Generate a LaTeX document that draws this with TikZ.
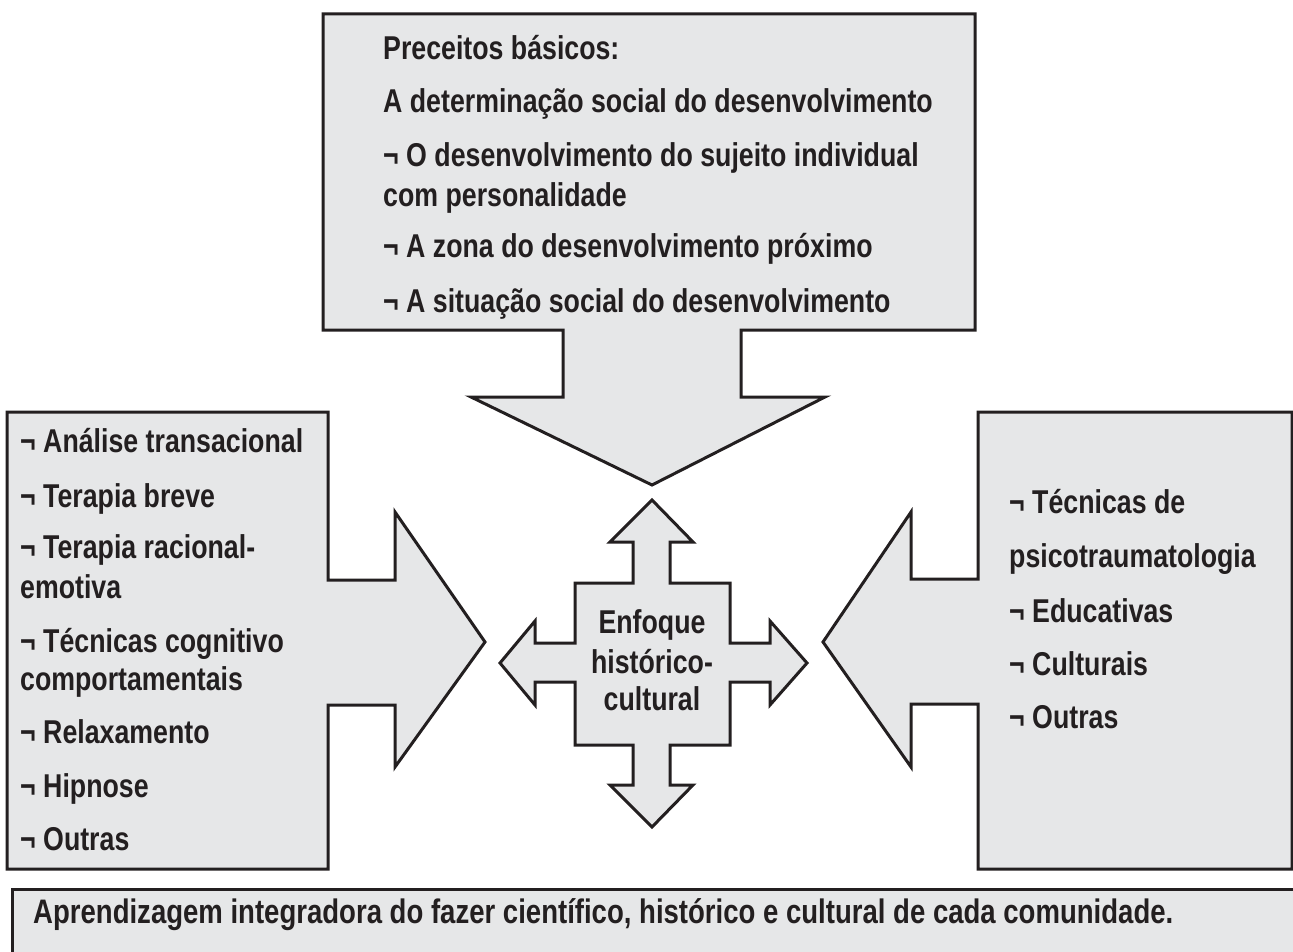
\documentclass[tikz,border=0pt]{standalone}
\usepackage{fontspec}
\setmainfont{Liberation Sans}[FakeStretch=0.81]
\definecolor{fillgray}{HTML}{E6E7E8}
\definecolor{strokec}{HTML}{231F20}
\newcommand\lblfont{\fontsize{33}{40}\selectfont\bfseries}
\newcommand\bottomfont{\fontsize{34}{40}\selectfont\bfseries}
\tikzset{
  callout/.style={fill=fillgray, draw=strokec, line width=3pt, line join=miter},
  lbl/.style={anchor=base west, inner sep=0pt, text=strokec, font=\lblfont},
  clbl/.style={anchor=base, inner sep=0pt, text=strokec, font=\lblfont}
}
\begin{document}
\begin{tikzpicture}[x=1pt,y=-1pt]
\useasboundingbox (0,0) rectangle (1293,952);
\clip (0,0) rectangle (1293,952);
% top callout
\draw[callout] (323,14) -- (975,14) -- (975,330) -- (741,330) -- (741,397) -- (825,397)
  -- (652,485) -- (471,397) -- (563,397) -- (563,330) -- (323,330) -- cycle;
% left callout
\draw[callout] (7,412) -- (328,412) -- (328,580) -- (395,580) -- (395,512) -- (485,642)
  -- (395,767) -- (395,705) -- (328,705) -- (328,869) -- (7,869) -- cycle;
% right callout
\draw[callout] (978,412) -- (1292,412) -- (1292,869) -- (978,869) -- (978,704) -- (911,704)
  -- (911,767) -- (823,642) -- (911,512) -- (911,579) -- (978,579) -- cycle;
% bottom box
\draw[callout] (12,889) rectangle (1310,970);
% center cross
\draw[callout] (652,500) -- (693,542) -- (670,542) -- (670,583) -- (730,583) -- (730,643)
  -- (770,643) -- (770,621) -- (807,663) -- (770,705) -- (770,682) -- (730,682) -- (730,745)
  -- (670,745) -- (670,785) -- (693,785) -- (652,827) -- (610,785) -- (633,785) -- (633,745)
  -- (575,745) -- (575,682) -- (535,682) -- (535,705) -- (500,663) -- (535,621) -- (535,643)
  -- (575,643) -- (575,583) -- (633,583) -- (633,542) -- (610,542) -- cycle;
% top texts
\node[lbl] (t1) at (383,60) {Preceitos básicos:};
\node[lbl] (t2) at (383,113) {A determinação social do desenvolvimento};
\node[lbl] (t3) at (383,167) {¬ O desenvolvimento do sujeito individual};
\node[lbl] (t4) at (383,207) {com personalidade};
\node[lbl] (t5) at (383,258) {¬ A zona do desenvolvimento próximo};
\node[lbl] (t6) at (383,312) {¬ A situação social do desenvolvimento};
% left texts
\node[lbl] (l1) at (20,452) {¬ Análise transacional};
\node[lbl] (l2) at (20,507) {¬ Terapia breve};
\node[lbl] (l3) at (20,558) {¬ Terapia racional-};
\node[lbl] (l4) at (20,598) {emotiva};
\node[lbl] (l5) at (20,652) {¬ Técnicas cognitivo};
\node[lbl] (l6) at (20,690) {comportamentais};
\node[lbl] (l7) at (20,743) {¬ Relaxamento};
\node[lbl] (l8) at (20,797) {¬ Hipnose};
\node[lbl] (l9) at (20,850) {¬ Outras};
% right texts
\node[lbl] (r1) at (1009,513) {¬ Técnicas de};
\node[lbl] (r2) at (1009,567) {psicotraumatologia};
\node[lbl] (r3) at (1009,622) {¬ Educativas};
\node[lbl] (r4) at (1009,675) {¬ Culturais};
\node[lbl] (r5) at (1009,728) {¬ Outras};
% center texts
\node[clbl] (c1) at (652,633) {Enfoque};
\node[clbl] (c2) at (652,673) {histórico-};
\node[clbl] (c3) at (652,710) {cultural};
% bottom text
\node[lbl, font=\bottomfont] (b1) at (33,923) {Aprendizagem integradora do fazer científico, histórico e cultural de cada comunidade.};
\end{tikzpicture}
\end{document}
